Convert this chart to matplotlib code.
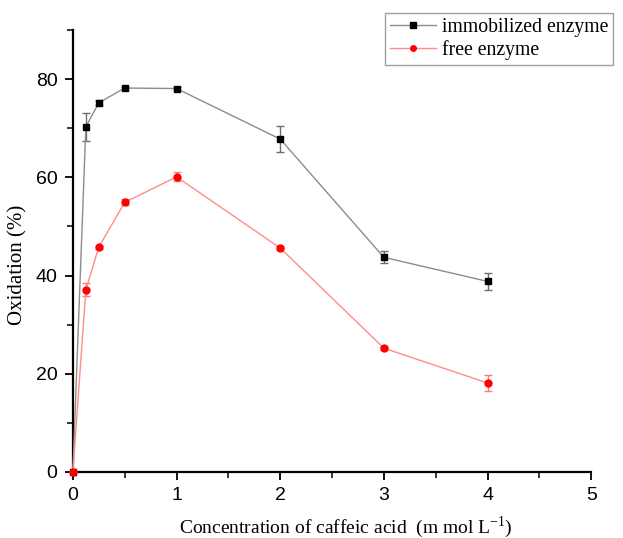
import numpy as np
import matplotlib.pyplot as plt
from matplotlib.ticker import MultipleLocator
from matplotlib.lines import Line2D

# caffeic acid concentration (m mol/L)
conc = [0, 0.125, 0.25, 0.5, 1, 2, 3, 4]

immob = [0, 70.3, 75.2, 78.2, 78.1, 67.8, 43.7, 38.8]
immob_err = [0, 2.8, 0.5, 0.3, 0.3, 2.6, 1.2, 1.8]

free = [0, 37.1, 45.8, 54.9, 60.1, 45.6, 25.2, 18.1]
free_err = [0, 1.3, 0.3, 0.6, 0.9, 0.5, 0.3, 1.7]

serif = ['Liberation Serif', 'DejaVu Serif']
sans = ['Liberation Sans', 'DejaVu Sans']

fig = plt.figure(figsize=(6.23, 5.38), dpi=100)
ax = fig.add_axes([0.117, 0.123, 0.832, 0.821])

ax.errorbar(conc, immob, yerr=immob_err, color='#8c8c8c', lw=1.0,
            marker='s', ms=5, mfc='black', mec='black',
            ecolor='#6e6e6e', elinewidth=1.0, capsize=3, capthick=1.0,
            clip_on=False, zorder=3)
ax.errorbar(conc, free, yerr=free_err, color='#ff8c8c', lw=1.0,
            marker='o', ms=5, mfc='red', mec='red',
            ecolor='#ff7a7a', elinewidth=1.0, capsize=3, capthick=1.0,
            clip_on=False, zorder=4)

ax.set_xlim(0, 5)
ax.set_ylim(0, 90)
ax.xaxis.set_major_locator(MultipleLocator(1))
ax.xaxis.set_minor_locator(MultipleLocator(0.5))
ax.yaxis.set_major_locator(MultipleLocator(20))
ax.yaxis.set_minor_locator(MultipleLocator(10))

for s in ['top', 'right']:
    ax.spines[s].set_visible(False)
for s in ['left', 'bottom']:
    ax.spines[s].set_linewidth(1.6)

ax.tick_params(which='major', direction='out', length=6, width=1.3,
               labelsize=14, pad=5)
ax.tick_params(which='minor', direction='out', length=4, width=1.1)
for lab in ax.get_xticklabels() + ax.get_yticklabels():
    lab.set_family(sans)

ax.set_xlabel('Concentration of caffeic acid  (m mol L$^{\\mathregular{-1}}$)',
              family=serif, fontsize=14)
ax.set_ylabel('Oxidation (%)', family=serif, fontsize=15)
ax.xaxis.set_label_coords(0.527, -0.095)
ax.yaxis.set_label_coords(-0.087, 0.468)

handles = [
    Line2D([], [], color='#8c8c8c', lw=1.0, marker='s', ms=4,
           mfc='black', mec='black'),
    Line2D([], [], color='#ff8c8c', lw=1.0, marker='o', ms=4,
           mfc='red', mec='red'),
]
leg = ax.legend(handles, ['immobilized enzyme', 'free enzyme'],
                loc='upper right', bbox_to_anchor=(1.042, 1.038),
                prop={'family': serif, 'size': 14.2}, frameon=True,
                fancybox=False, edgecolor='#888888', handlelength=2.3,
                borderpad=0.25, labelspacing=0.15, handletextpad=0.3,
                borderaxespad=0.0)
leg.get_frame().set_linewidth(1.0)

fig.savefig('out.png', dpi=100)
